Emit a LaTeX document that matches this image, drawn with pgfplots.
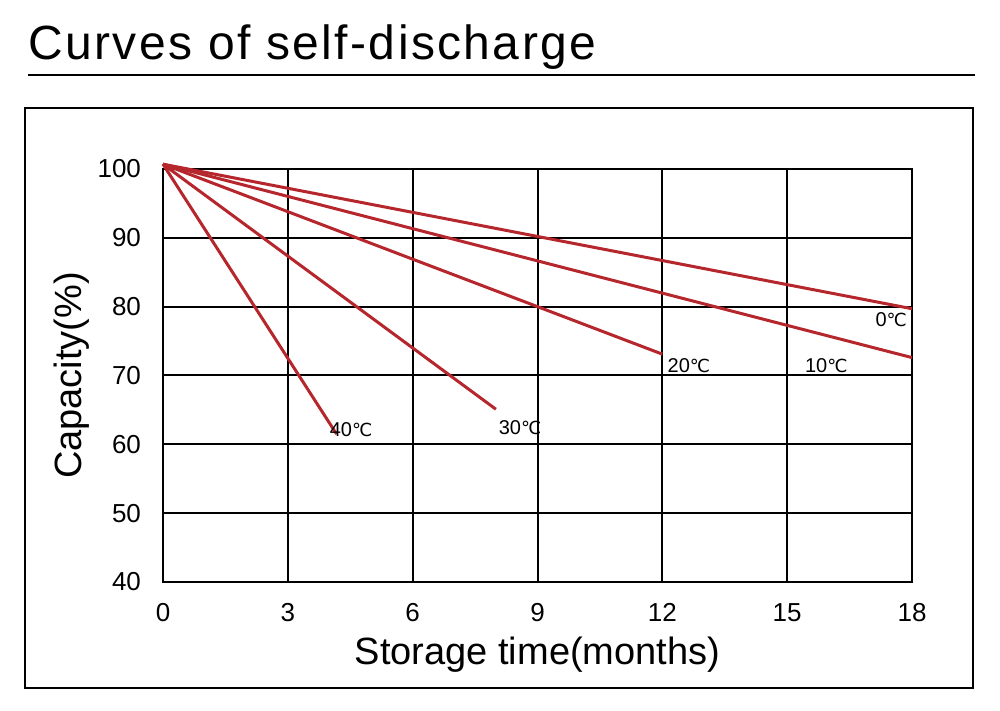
\documentclass[border=0pt]{standalone}
\usepackage{fontspec}
\setmainfont{Liberation Sans}
\newfontfamily\symfont{DejaVu Sans}
\newfontfamily\titlefont[LetterSpace=5]{Liberation Sans}
\usepackage{pgfplots}
\pgfplotsset{compat=1.18}
\definecolor{curve}{HTML}{B5272D}
\newcommand{\dc}{{\symfont\fontsize{9}{10}\selectfont ℃}}
\begin{document}
\begin{tikzpicture}
\useasboundingbox (0,0) rectangle (500pt,355.5pt);
\draw[line width=1pt] (12.5pt,11.5pt) rectangle (486.5pt,301.5pt);
\draw[line width=1pt] (14pt,318pt) -- (487.5pt,318pt);
\node[anchor=base west, inner sep=0pt, font=\titlefont\fontsize{24}{28}\selectfont] at (14pt,325.5pt) {Curves of self-discharge};
\begin{axis}[
  at={(81.5pt,64.5pt)}, anchor=south west,
  scale only axis, width=374.5pt, height=206.5pt,
  xmin=0, xmax=18, ymin=40, ymax=100,
  xtick={0,3,6,9,12,15,18}, ytick={40,50,60,70,80,90,100},
  grid=major, major grid style={black, line width=1pt},
  axis line style={black, line width=1pt},
  major tick length=0pt,
  tick style={draw=none},
  /pgf/number format/assume math mode=true,
  ticklabel style={font=\fontsize{13}{15}\selectfont},
  xticklabel style={anchor=north, inner sep=0pt, text height=9.3pt, text depth=0pt, yshift=-10.3pt},
  yticklabel style={xshift=-7.5pt},
  label style={font=\fontsize{19}{22}\selectfont},
  xlabel={Storage time(months)},
  ylabel={Capacity(\%)},
  x label style={at={(axis description cs:0.5,-0.177)}, anchor=center},
  y label style={at={(axis description cs:-0.1215,0.5)}, anchor=center},
  clip=false,
]
\addplot[curve, line width=1.5pt] coordinates {(0,100.7) (18,79.7)};
\addplot[curve, line width=1.5pt] coordinates {(0,100.7) (18,72.6)};
\addplot[curve, line width=1.5pt] coordinates {(0,100.7) (12,73.1)};
\addplot[curve, line width=1.5pt] coordinates {(0,100.7) (8,65.1)};
\addplot[curve, line width=1.5pt] coordinates {(0,100.7) (4.17,61.5)};
\node[font=\fontsize{10}{12}\selectfont, inner sep=0pt] at (axis cs:17.5,78.1) {0\dc};
\node[font=\fontsize{10}{12}\selectfont, inner sep=0pt] at (axis cs:15.94,71.5) {10\dc};
\node[font=\fontsize{10}{12}\selectfont, inner sep=0pt] at (axis cs:12.64,71.5) {20\dc};
\node[font=\fontsize{10}{12}\selectfont, inner sep=0pt] at (axis cs:8.58,62.4) {30\dc};
\node[font=\fontsize{10}{12}\selectfont, inner sep=0pt] at (axis cs:4.52,62.1) {40\dc};
\end{axis}
\end{tikzpicture}
\end{document}
